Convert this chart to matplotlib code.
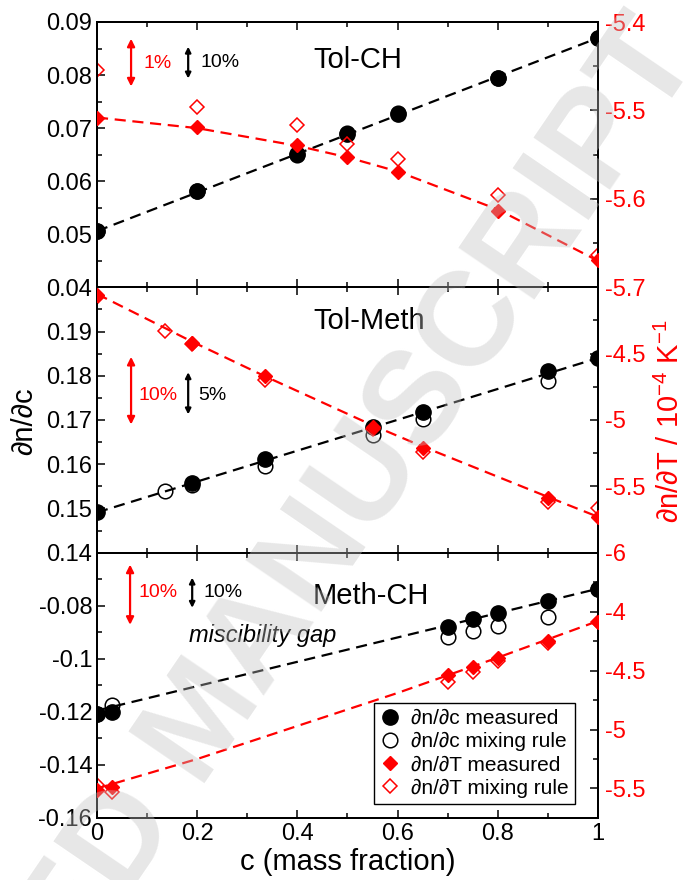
import matplotlib
matplotlib.use("Agg")
import matplotlib.pyplot as plt
from matplotlib.lines import Line2D
from matplotlib.ticker import MultipleLocator

plt.rcParams['font.family'] = ['Liberation Sans', 'DejaVu Sans']
plt.rcParams['mathtext.fontset'] = 'custom'
plt.rcParams['mathtext.rm'] = 'Liberation Sans'
plt.rcParams['mathtext.default'] = 'regular'
plt.rcParams['axes.unicode_minus'] = False

RED = '#ff0000'

# ---- Tol-CH ----
c_tc = [0, 0.2, 0.4, 0.5, 0.6, 0.8, 1.0]
dndc_meas_tc = [0.0506, 0.0581, 0.0652, 0.0689, 0.0726, 0.0795, 0.0870]
dndc_mix_tc = [0.0506, 0.0581, 0.0650, 0.0690, 0.0729, 0.0795, 0.0870]
dndT_meas_tc = [-5.509, -5.519, -5.539, -5.553, -5.570, -5.614, -5.669]
dndT_mix_tc = [-5.454, -5.496, -5.517, -5.538, -5.555, -5.596, -5.664]
fitc_x_tc = [0, 1]
fitc_y_tc = [0.0506, 0.0870]
fitT_x_tc = [0, 0.2, 0.4, 0.5, 0.6, 0.8, 1.0]
fitT_y_tc = [-5.508, -5.520, -5.540, -5.553, -5.569, -5.612, -5.670]

# ---- Tol-Meth ----
c_meas_tm = [0, 0.19, 0.335, 0.55, 0.65, 0.9, 1.0]
dndc_meas_tm = [0.1491, 0.1557, 0.1612, 0.1685, 0.1719, 0.1811, 0.1840]
c_mixc_tm = [0.135, 0.19, 0.335, 0.55, 0.65, 0.9]
dndc_mix_tm = [0.1539, 0.1553, 0.1597, 0.1665, 0.1703, 0.1788]
dndT_meas_tm = [-4.061, -4.42, -4.67, -5.05, -5.21, -5.59, -5.73]
c_mixT_tm = [0, 0.135, 0.19, 0.335, 0.55, 0.65, 0.9, 1.0]
dndT_mix_tm = [-4.07, -4.33, -4.43, -4.70, -5.07, -5.24, -5.62, -5.66]
fitc_x_tm = [0, 1]
fitc_y_tm = [0.1491, 0.1840]
fitT_x_tm = [0, 0.19, 0.335, 0.55, 0.65, 0.9, 1.0]
fitT_y_tm = [-4.05, -4.41, -4.67, -5.04, -5.20, -5.58, -5.73]

# ---- Meth-CH ----
c_mc = [0, 0.03, 0.7, 0.75, 0.8, 0.9, 1.0]
dndc_meas_mc = [-0.1208, -0.1200, -0.0879, -0.0849, -0.0826, -0.0781, -0.0736]
dndc_mix_mc = [-0.1208, -0.1174, -0.0917, -0.0894, -0.0875, -0.0842, -0.0736]
dndT_meas_mc = [-5.51, -5.49, -4.536, -4.47, -4.39, -4.25, -4.09]
dndT_mix_mc = [-5.47, -5.53, -4.60, -4.51, -4.42, -4.27, -4.09]
fitc_x_mc = [0, 1]
fitc_y_mc = [-0.1195, -0.0736]
fitT_x_mc = [0, 0.2, 0.4, 0.6, 0.8, 1.0]
fitT_y_mc = [-5.50, -5.25, -4.97, -4.69, -4.39, -4.08]

# axis ranges and tick labels
titles = ['Tol-CH', 'Tol-Meth', 'Meth-CH']
left_lims = [(0.04, 0.09), (0.14, 0.2), (-0.16, -0.06)]
left_ticks = [[0.04, 0.05, 0.06, 0.07, 0.08, 0.09],
              [0.14, 0.15, 0.16, 0.17, 0.18, 0.19],
              [-0.16, -0.14, -0.12, -0.1, -0.08]]
left_labels = [['0.04', '0.05', '0.06', '0.07', '0.08', '0.09'],
               ['0.14', '0.15', '0.16', '0.17', '0.18', '0.19'],
               ['-0.16', '-0.14', '-0.12', '-0.1', '-0.08']]
left_minor = [0.005, 0.005, 0.01]
right_lims = [(-5.7, -5.4), (-6, -4), (-5.75, -3.5)]
right_ticks = [[-5.7, -5.6, -5.5, -5.4], [-6, -5.5, -5, -4.5], [-5.5, -5, -4.5, -4]]
right_labels = [['-5.7', '-5.6', '-5.5', '-5.4'], ['-6', '-5.5', '-5', '-4.5'],
                ['-5.5', '-5', '-4.5', '-4']]
right_minor = [0.05, 0.25, 0.25]
x_ticks = [0, 0.2, 0.4, 0.6, 0.8, 1]
x_labels = ['0', '0.2', '0.4', '0.6', '0.8', '1']

# (red label, black label) for the scale arrows
arrow_text = [('1%', '10%'), ('10%', '5%'), ('10%', '10%')]

data = [
    (c_tc, dndc_meas_tc, c_tc, dndc_mix_tc, c_tc, dndT_meas_tc, c_tc, dndT_mix_tc,
     fitc_x_tc, fitc_y_tc, fitT_x_tc, fitT_y_tc),
    (c_meas_tm, dndc_meas_tm, c_mixc_tm, dndc_mix_tm, c_meas_tm, dndT_meas_tm, c_mixT_tm, dndT_mix_tm,
     fitc_x_tm, fitc_y_tm, fitT_x_tm, fitT_y_tm),
    (c_mc, dndc_meas_mc, c_mc, dndc_mix_mc, c_mc, dndT_meas_mc, c_mc, dndT_mix_mc,
     fitc_x_mc, fitc_y_mc, fitT_x_mc, fitT_y_mc),
]

# arrow geometry in axes fraction: (x, y0, y1, text x, text y)
red_arrows = [(0.068, 0.757, 0.937, 0.092, 0.843),
              (0.068, 0.483, 0.738, 0.082, 0.593),
              (0.066, 0.728, 0.955, 0.082, 0.849)]
blk_arrows = [(0.182, 0.787, 0.907, 0.206, 0.847),
              (0.182, 0.521, 0.680, 0.202, 0.593),
              (0.190, 0.792, 0.906, 0.212, 0.849)]

fig, axes = plt.subplots(3, 1, figsize=(6.86, 8.8), dpi=100, sharex=True)
fig.subplots_adjust(left=0.1414, right=0.8717, top=0.975, bottom=0.0705, hspace=0)

for i, ax in enumerate(axes):
    (cm, ym, cx, yx, tm, Tm, tx, Tx, fcx, fcy, ftx, fty) = data[i]
    ax2 = ax.twinx()

    ax.plot(fcx, fcy, color='k', lw=1.6, dashes=(5, 3), zorder=1)
    ax.plot(cx, yx, 'o', ms=10.5, mfc='none', mec='k', mew=1.1, zorder=2)
    ax.plot(cm, ym, 'o', ms=11, color='k', zorder=3)

    ax2.plot(ftx, fty, color=RED, lw=1.6, dashes=(5, 3), zorder=1)
    ax2.plot(tx, Tx, 'D', ms=7.0, mfc='none', mec=RED, mew=1.1, zorder=2)
    ax2.plot(tm, Tm, 'D', ms=7.4, color=RED, zorder=3)

    ax.set_xlim(0, 1)
    ax.set_ylim(*left_lims[i])
    ax.set_yticks(left_ticks[i])
    ax.set_yticklabels(left_labels[i])
    ax.yaxis.set_minor_locator(MultipleLocator(left_minor[i]))
    ax2.set_ylim(*right_lims[i])
    ax2.set_yticks(right_ticks[i])
    ax2.set_yticklabels(right_labels[i], color=RED)
    ax2.yaxis.set_minor_locator(MultipleLocator(right_minor[i]))

    ax.set_xticks(x_ticks)
    ax.xaxis.set_minor_locator(MultipleLocator(0.1))
    ax.tick_params(axis='x', which='both', direction='in', top=True, bottom=True)
    ax.tick_params(axis='y', which='both', direction='in', right=False)
    for a in (ax, ax2):
        a.tick_params(which='major', length=6, width=1.1, labelsize=17)
        a.tick_params(which='minor', length=3.5, width=1.1)
        for s in a.spines.values():
            s.set_linewidth(1.4)
    ax2.tick_params(axis='y', which='both', direction='in', pad=5)

    ax.text(0.431, [0.858, 0.874, 0.838][i], titles[i], transform=ax.transAxes,
            fontsize=21, ha='left', va='center')

    xa, y0, y1, tx_, ty_ = red_arrows[i]
    ax.annotate('', xy=(xa, y1), xytext=(xa, y0), xycoords='axes fraction',
                arrowprops=dict(arrowstyle='<|-|>', color=RED, lw=1.6,
                                mutation_scale=11, shrinkA=0, shrinkB=0))
    ax.text(tx_, ty_, arrow_text[i][0], transform=ax.transAxes, color=RED,
            fontsize=14, ha='left', va='center')
    xa, y0, y1, tx_, ty_ = blk_arrows[i]
    ax.annotate('', xy=(xa, y1), xytext=(xa, y0), xycoords='axes fraction',
                arrowprops=dict(arrowstyle='<|-|>', color='k', lw=1.6,
                                mutation_scale=8, shrinkA=0, shrinkB=0))
    ax.text(tx_, ty_, arrow_text[i][1], transform=ax.transAxes, color='k',
            fontsize=14, ha='left', va='center')

    if i == 2:
        ax.text(0.184, 0.687, 'miscibility gap', transform=ax.transAxes,
                fontsize=17, style='italic', ha='left', va='center')
        handles = [
            Line2D([], [], ls='none', marker='o', ms=11, color='k'),
            Line2D([], [], ls='none', marker='o', ms=10.5, mfc='none', mec='k', mew=1.1),
            Line2D([], [], ls='none', marker='D', ms=7.4, color=RED),
            Line2D([], [], ls='none', marker='D', ms=7.0, mfc='none', mec=RED, mew=1.1),
        ]
        labels = ['∂n/∂c measured', '∂n/∂c mixing rule',
                  '∂n/∂T measured', '∂n/∂T mixing rule']
        leg = ax2.legend(handles, labels, loc='lower right',
                         bbox_to_anchor=(0.954, 0.053), borderaxespad=0,
                         fontsize=15, fancybox=False, edgecolor='k', framealpha=1,
                         labelspacing=0.2, handlelength=1.0, handletextpad=0.5,
                         borderpad=0.3)
        leg.get_frame().set_linewidth(1.0)

axes[2].set_xticklabels(x_labels)
axes[2].tick_params(axis='x', labelsize=17)
axes[2].set_xlabel('c (mass fraction)', fontsize=21, labelpad=2)

fig.text(24 / 686, 1 - 421 / 880, '∂n/∂c', rotation=90, fontsize=21,
         ha='center', va='center')
fig.text(670 / 686, 1 - 421 / 880, '∂n/∂T / 10$^{-4}$ K$^{-1}$', rotation=90,
         fontsize=21, color=RED, ha='center', va='center')

# watermark of the source document
fig.text(0.299, 0.18, 'ACCEPTED MANUSCRIPT', rotation=55.7, rotation_mode='anchor',
         ha='center', va='center', fontsize=96, fontweight='bold',
         color='#c0c0c0', alpha=0.38, zorder=10)

fig.savefig('out.png', dpi=100)
